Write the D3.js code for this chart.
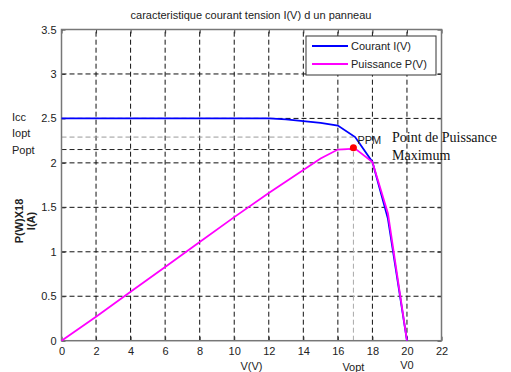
<!DOCTYPE html>
<html>
<head>
  <meta charset="utf-8">
  <script src="https://d3js.org/d3.v7.min.js"></script>
  <style>
    body { margin: 0; background: #fff; }
    text { font-family: "Liberation Sans", Arial, sans-serif; }
  </style>
</head>
<body>
<script>
  var width = 511;
  var height = 372;

  // donnees
  var tension = [0, 2, 4, 6, 8, 10, 12, 13, 14, 15, 16, 17, 18, 18.9, 20];
  var courant = [2.5, 2.5, 2.5, 2.5, 2.5, 2.5, 2.5, 2.49, 2.47, 2.45, 2.42, 2.29, 2.01, 1.37, 0];
  var puissance = [0, 0.27, 0.55, 0.83, 1.11, 1.39, 1.66, 1.79, 1.92, 2.05, 2.15, 2.16, 2.01, 1.43, 0];
  var xTicks = [0, 2, 4, 6, 8, 10, 12, 14, 16, 18, 20, 22];
  var yTicks = [0, 0.5, 1, 1.5, 2, 2.5, 3, 3.5];
  var seriesNames = ["Courant I(V)", "Puissance P(V)"];
  var Vopt = 16.9, Iopt = 2.29, Popt = 2.15, Pmax = 2.17, Icc = 2.5;

  var x = d3.scaleLinear().domain([0, 22]).range([61.5, 441.5]);
  var y = d3.scaleLinear().domain([0, 3.5]).range([340.7, 29.5]);

  var svg = d3.select("body").append("svg")
    .attr("width", width)
    .attr("height", height);

  // grille
  svg.append("g").selectAll("line")
    .data(xTicks.slice(1, -1))
    .enter().append("line")
    .attr("x1", function(d) { return x(d); })
    .attr("x2", function(d) { return x(d); })
    .attr("y1", y(0)).attr("y2", y(3.5))
    .attr("stroke", "#111").attr("stroke-width", 1)
    .attr("stroke-dasharray", "5,3");

  svg.append("g").selectAll("line")
    .data(yTicks.slice(1, -1))
    .enter().append("line")
    .attr("y1", function(d) { return y(d); })
    .attr("y2", function(d) { return y(d); })
    .attr("x1", x(0)).attr("x2", x(22))
    .attr("stroke", "#111").attr("stroke-width", 1)
    .attr("stroke-dasharray", "5,3");

  // lignes de reference
  svg.append("line")
    .attr("x1", x(0)).attr("x2", x(Vopt))
    .attr("y1", y(Iopt)).attr("y2", y(Iopt))
    .attr("stroke", "#999").attr("stroke-dasharray", "5,3");
  svg.append("line")
    .attr("x1", x(0)).attr("x2", x(Vopt))
    .attr("y1", y(Popt)).attr("y2", y(Popt))
    .attr("stroke", "#222").attr("stroke-dasharray", "5,3");
  svg.append("line")
    .attr("x1", x(Vopt)).attr("x2", x(Vopt))
    .attr("y1", y(0)).attr("y2", y(Pmax))
    .attr("stroke", "#aaa").attr("stroke-dasharray", "5,3");

  // axes
  var xAxis = d3.axisBottom(x).tickValues(xTicks).tickSize(-4).tickPadding(7)
    .tickFormat(d3.format("~g"));
  var yAxis = d3.axisLeft(y).tickValues(yTicks).tickSize(-4).tickPadding(5)
    .tickFormat(d3.format("~g"));

  var gx = svg.append("g").attr("transform", "translate(0," + y(0) + ")").call(xAxis);
  var gy = svg.append("g").attr("transform", "translate(" + x(0) + ",0)").call(yAxis);
  svg.append("g").attr("transform", "translate(0," + y(3.5) + ")")
    .call(d3.axisTop(x).tickValues(xTicks).tickSize(-4).tickFormat(""));
  svg.append("g").attr("transform", "translate(" + x(22) + ",0)")
    .call(d3.axisRight(y).tickValues(yTicks).tickSize(-4).tickFormat(""));

  svg.selectAll(".domain").remove();
  svg.selectAll(".tick line").attr("stroke", "#333");
  svg.selectAll(".tick text").attr("fill", "#222").style("font-size", "11px");

  svg.append("rect")
    .attr("x", x(0)).attr("y", y(3.5))
    .attr("width", x(22) - x(0)).attr("height", y(0) - y(3.5))
    .attr("fill", "none").attr("stroke", "#777").attr("stroke-width", 1.5);

  // courbes
  var ptsI = tension.map(function(v, i) { return [v, courant[i]]; });
  var ptsP = tension.map(function(v, i) { return [v, puissance[i]]; });
  var line = d3.line()
    .x(function(d) { return x(d[0]); })
    .y(function(d) { return y(d[1]); });

  svg.append("path").datum(ptsI)
    .attr("d", line).attr("fill", "none")
    .attr("stroke", "#0000ff").attr("stroke-width", 1.8);
  svg.append("path").datum(ptsP)
    .attr("d", line).attr("fill", "none")
    .attr("stroke", "#ff00ff").attr("stroke-width", 1.8);

  svg.append("circle")
    .attr("cx", x(Vopt)).attr("cy", y(Pmax)).attr("r", 3.5)
    .attr("fill", "#ff0000");

  // legende
  var leg = svg.append("g");
  leg.append("rect")
    .attr("x", 306).attr("y", 36).attr("width", 130).attr("height", 39)
    .attr("fill", "#fff").attr("stroke", "#333").attr("stroke-width", 1);
  var colors = ["#0000ff", "#ff00ff"];
  seriesNames.forEach(function(name, i) {
    leg.append("line")
      .attr("x1", 312).attr("x2", 348)
      .attr("y1", 46 + i * 18).attr("y2", 46 + i * 18)
      .attr("stroke", colors[i]).attr("stroke-width", 2);
    leg.append("text")
      .attr("x", 351).attr("y", 50 + i * 18)
      .style("font-size", "11px").attr("fill", "#222")
      .text(name);
  });

  // textes
  svg.append("text")
    .attr("x", 251).attr("y", 19)
    .attr("text-anchor", "middle")
    .style("font-size", "11px").attr("fill", "#222")
    .text("caracteristique courant tension I(V) d un panneau");

  svg.append("text")
    .attr("x", x(11)).attr("y", 370)
    .attr("text-anchor", "middle")
    .style("font-size", "11px").attr("fill", "#222")
    .text("V(V)");
  svg.append("text")
    .attr("x", x(Vopt)).attr("y", 371)
    .attr("text-anchor", "middle")
    .style("font-size", "11px").attr("fill", "#222")
    .text("Vopt");
  svg.append("text")
    .attr("x", x(20)).attr("y", 369)
    .attr("text-anchor", "middle")
    .style("font-size", "11px").attr("fill", "#222")
    .text("V0");

  var leftLabels = [["Icc", y(Icc) + 3], ["Iopt", 137], ["Popt", 154]];
  leftLabels.forEach(function(l) {
    svg.append("text")
      .attr("x", 12).attr("y", l[1])
      .style("font-size", "11px").attr("fill", "#222")
      .text(l[0]);
  });

  var yl = svg.append("text")
    .attr("transform", "translate(23,221) rotate(-90)")
    .attr("text-anchor", "middle")
    .style("font-size", "11px").style("font-weight", "bold").attr("fill", "#222");
  yl.append("tspan").attr("x", 0).attr("dy", 0).text("P(W)X18");
  yl.append("tspan").attr("x", 0).attr("dy", 12).text("I(A)");

  svg.append("text")
    .attr("x", x(Vopt) + 4).attr("y", y(Pmax) - 4)
    .style("font-size", "11px").attr("fill", "#222")
    .text("PPM");

  svg.append("text")
    .attr("x", 392).attr("y", 142)
    .style("font-family", "'Liberation Serif', 'Times New Roman', serif")
    .style("font-size", "14px").attr("fill", "#111")
    .text("Point de Puissance");
  svg.append("text")
    .attr("x", 392).attr("y", 160)
    .style("font-family", "'Liberation Serif', 'Times New Roman', serif")
    .style("font-size", "14px").attr("fill", "#111")
    .text("Maximum");
</script>
</body>
</html>
